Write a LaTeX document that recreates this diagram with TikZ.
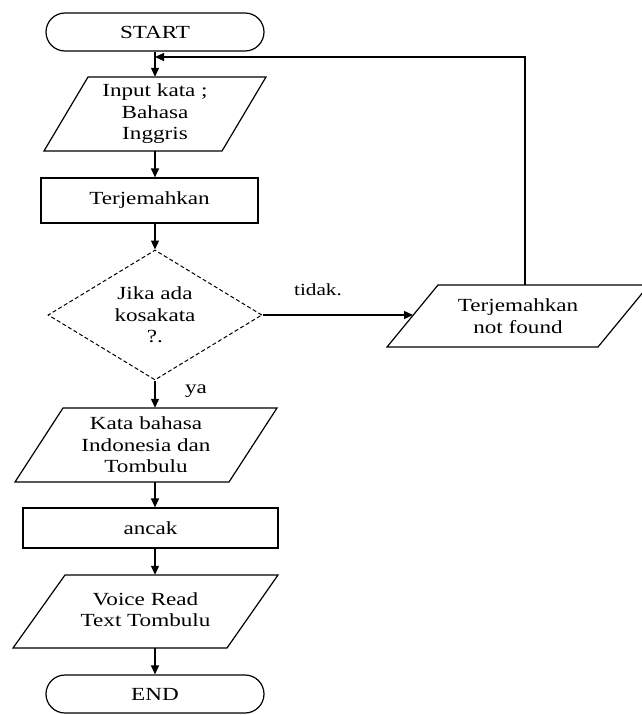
\documentclass[tikz,border=0pt]{standalone}
\usepackage{fontspec}
\setmainfont[FakeStretch=1.25]{Liberation Serif}
\usetikzlibrary{shapes.geometric,shapes.misc,arrows.meta}
\begin{document}
\begin{tikzpicture}[x=1pt,y=-1pt,
  ln/.style={line width=1.2pt},
  arr/.style={ln,-{Triangle[length=9pt,width=8pt]}},
  lbl/.style={font=\fontsize{18.5}{21.5}\selectfont, align=center, inner sep=0pt},
  term/.style={lbl, draw, ln, rounded rectangle, minimum width=218pt, minimum height=38pt},
  procbox/.style={lbl, draw, ln, rectangle},
  dec/.style={lbl, draw, diamond, aspect=1.646, line width=1pt, dash pattern=on 4pt off 2.5pt, minimum width=214pt, minimum height=130pt}
]
\useasboundingbox (0,0) rectangle (641,715);

% terminals and boxes
\node[term] (start) at (155,32) {START};

\draw[ln] (88,77) -- (266,77) -- (222,151) -- (44,151) -- cycle;
\node[lbl, minimum height=74pt] (in) at (155,114) {Input kata ;\\Bahasa\\Inggris};

\node[procbox, minimum width=217pt, minimum height=45pt] (t1) at (149.5,200.5) {Terjemahkan};

\node[dec] (d) at (155,315) {Jika ada\\kosakata\\?.};

\draw[ln] (438,285) -- (649,285) -- (598,347) -- (387,347) -- cycle;
\node[lbl, minimum height=62pt] (nf) at (518,316) {Terjemahkan\\not found};

\draw[ln] (63,408) -- (277,408) -- (229,482) -- (15,482) -- cycle;
\node[lbl, minimum height=74pt] (kb) at (146,445) {Kata bahasa\\Indonesia dan\\Tombulu};

\node[procbox, minimum width=255pt, minimum height=40pt] (ac) at (150.5,528) {ancak};

\draw[ln] (65,575) -- (278,575) -- (227,648) -- (13,648) -- cycle;
\node[lbl, minimum height=73pt] (vr) at (145.5,611.5) {\raisebox{6pt}{\begin{tabular}{@{}c@{}}Voice Read\\Text Tombulu\end{tabular}}};

\node[term] (end) at (155,694) {END};

% labels
\node[lbl, font=\fontsize{17}{20}\selectfont] (tidak) at (318,290) {tidak.};
\node[lbl] (ya) at (196,391) {ya};

% connectors
\coordinate (join) at (155,57);
\coordinate (nftop) at (525,285);
\coordinate (nfin) at (413,315);

\draw[arr] (start.south) -- (start.south |- in.north);
\draw[arr] (in.south) -- (in.south |- t1.north);
\draw[arr] (in.south |- t1.south) -- (d.north);
\draw[arr] (d.east) -- (nfin);
\draw[arr] (nftop) |- (join);
\draw[arr] (d.south) -- (d.south |- kb.north);
\draw[arr] (d.south |- kb.south) -- (d.south |- ac.north);
\draw[arr] (d.south |- ac.south) -- (d.south |- vr.north);
\draw[arr] (d.south |- vr.south) -- (end.north);
\end{tikzpicture}
\end{document}
